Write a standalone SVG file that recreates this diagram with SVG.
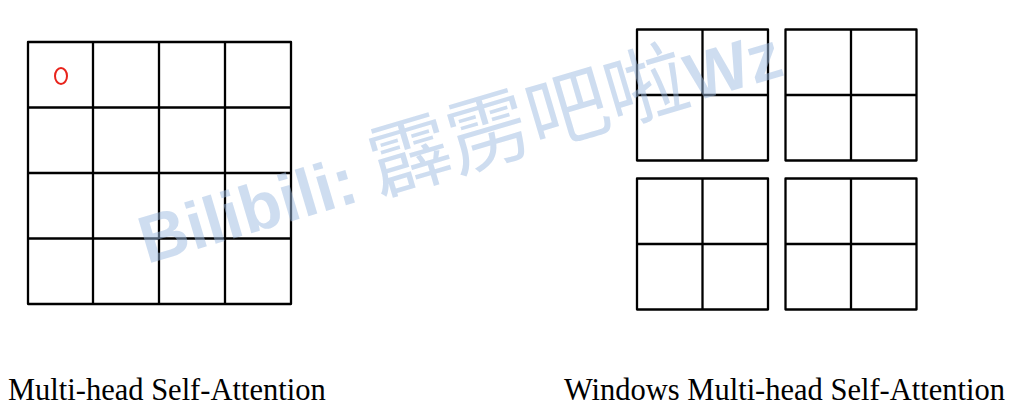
<svg xmlns="http://www.w3.org/2000/svg" width="1013" height="405" viewBox="0 0 1013 405">
  <defs>
    <style>
      .grid { fill: none; stroke: #000; stroke-width: 2.3; stroke-linejoin: round; }
      .label { font-family: "Liberation Serif", "Times New Roman", serif; font-size: 30.5px; fill: #000; }
      .wm { font-family: "Liberation Sans", "Noto Sans CJK SC", sans-serif; font-weight: bold; font-size: 67px; fill: #9dbbe2; fill-opacity: 0.5; }
      .wm .cjk { font-family: "Noto Sans CJK SC", sans-serif; font-weight: 400; font-size: 82px; }
    </style>
  </defs>
  <rect width="1013" height="405" fill="#fff"/>

  <g id="msa-grid">
    <rect class="grid" x="28" y="42" width="263" height="262"/>
    <path class="grid" d="M93,42V304M159,42V304M225,42V304M28,107.5H291M28,173H291M28,238.5H291"/>
    <ellipse cx="61" cy="76" rx="6" ry="8" fill="none" stroke="#e8231b" stroke-width="2"/>
  </g>

  <g id="window-tl">
    <rect class="grid" x="637" y="29.5" width="131" height="131"/>
    <path class="grid" d="M702.5,29.5V160.5M637,95H768"/>
  </g>
  <g id="window-tr">
    <rect class="grid" x="785.5" y="29.5" width="131" height="131"/>
    <path class="grid" d="M851,29.5V160.5M785.5,95H916.5"/>
  </g>
  <g id="window-bl">
    <rect class="grid" x="637" y="178.5" width="131" height="131"/>
    <path class="grid" d="M702.5,178.5V309.5M637,244H768"/>
  </g>
  <g id="window-br">
    <rect class="grid" x="785.5" y="178.5" width="131" height="131"/>
    <path class="grid" d="M851,178.5V309.5M785.5,244H916.5"/>
  </g>

  <g id="labels">
    <text class="label" x="8" y="400">Multi-head Self-Attention</text>
    <text class="label" x="564" y="400">Windows Multi-head Self-Attention</text>
  </g>

  <text class="wm" x="147" y="264" transform="rotate(-16.5 147 264)">Bilibili: <tspan class="cjk">霹雳吧啦</tspan>Wz</text>
</svg>
